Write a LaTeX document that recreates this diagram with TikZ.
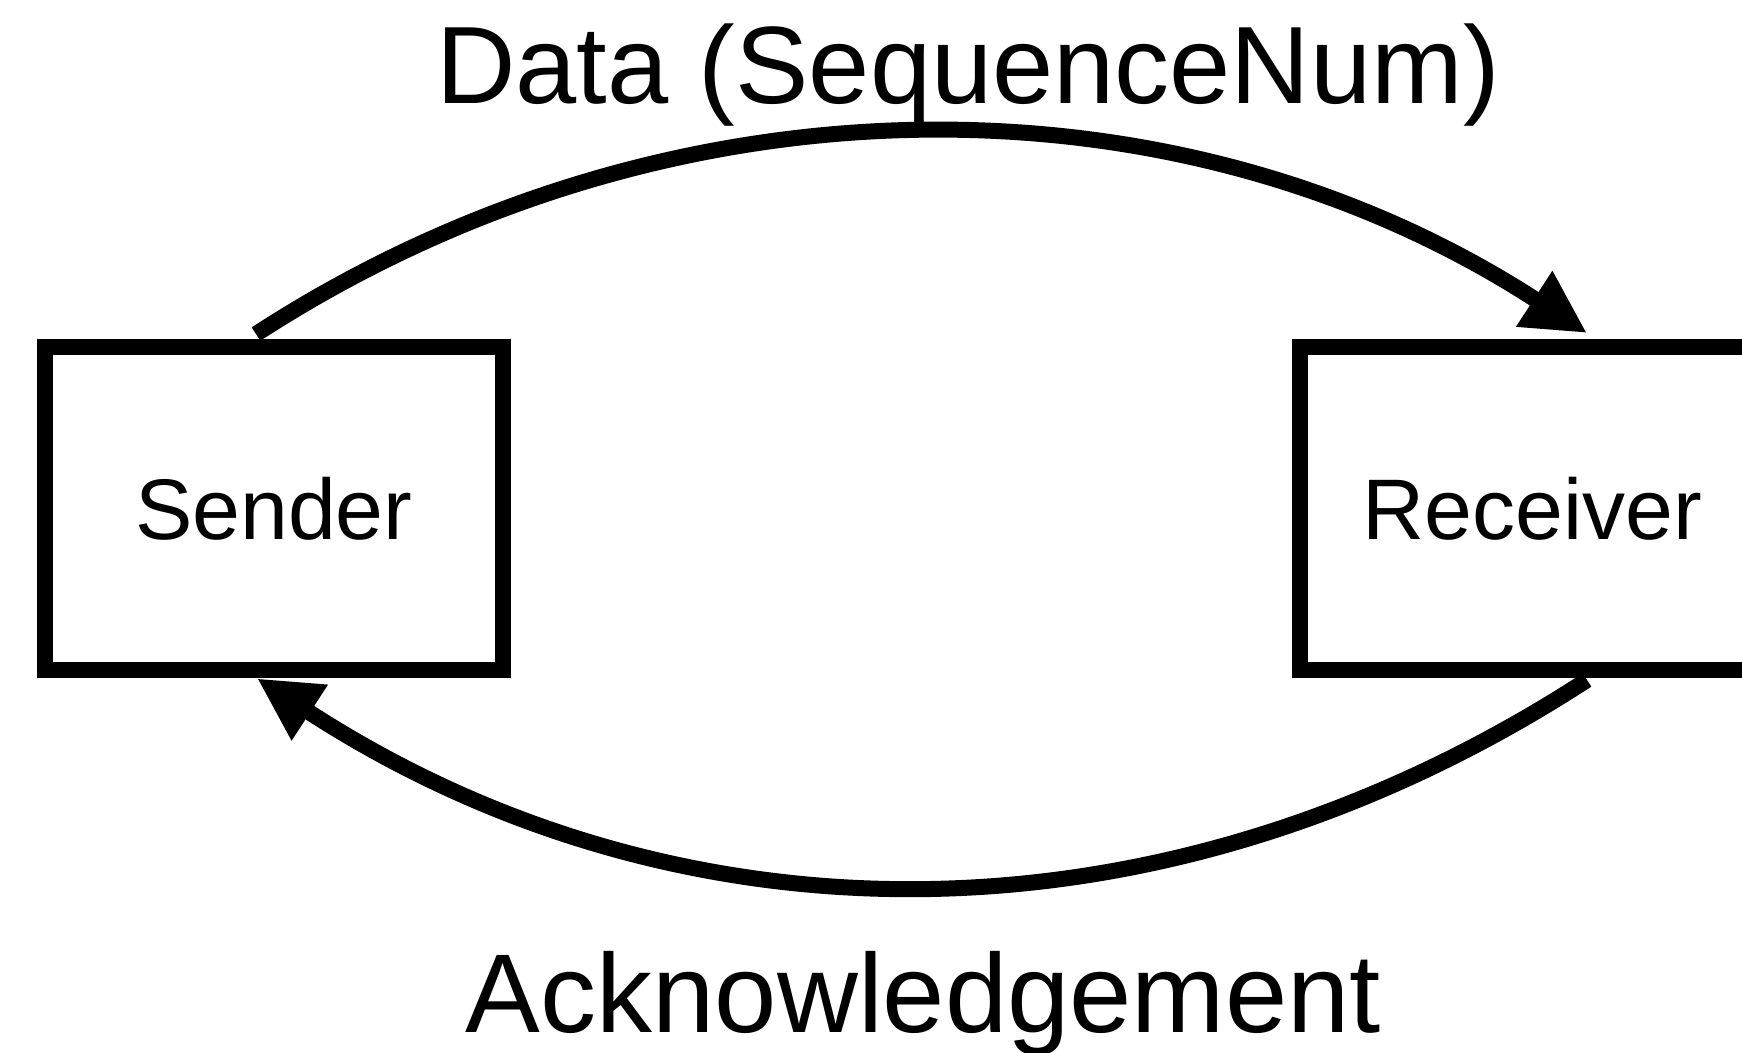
\documentclass[tikz,border=0pt]{standalone}
\usepackage{fontspec}
\setmainfont{Liberation Sans}
\usetikzlibrary{arrows.meta}

% one coordinate unit = 0.1pt
\tikzset{
  entity/.style={draw=black, line width=1.6pt, fill=white, inner sep=0pt,
                 minimum height=32.3pt, font=\fontsize{8.6}{10}\selectfont},
  flow/.style={line width=1.6pt, -{Triangle[length=6.3pt, width=6.2pt]}},
  caption/.style={inner sep=0pt, anchor=base}
}

\begin{document}
\begin{tikzpicture}[x=0.1pt, y=0.1pt]
  \useasboundingbox (0,0) rectangle (1742,1053);
  \clip (0,0) rectangle (1742,1053);

  % the two endpoints of the link
  \node[entity, minimum width=45.8pt] (sender)   at (273.75,544.1) {Sender};
  \node[entity, minimum width=46.5pt] (receiver) at (1532.5,544.1) {Receiver};

  % arc labels
  \node[caption, font=\fontsize{11.0}{13}\selectfont] (datalbl) at (968,949) {Data (SequenceNum)};
  \node[caption, font=\fontsize{11.2}{13}\selectfont] (acklbl)  at (923.5,20) {Acknowledgement};

  % data goes over the top, acknowledgement comes back underneath
  \draw[flow] ([xshift=-1.775pt, yshift=0.53pt]sender.north)
     to[out=33, in=147, distance=48.9pt]
     ([xshift=5.45pt, yshift=0.63pt]receiver.north);
  \draw[flow] ([xshift=5.45pt, yshift=-0.16pt]receiver.south)
     to[out=-147, in=-33, distance=50.4pt]
     ([xshift=-1.675pt]sender.south);
\end{tikzpicture}
\end{document}
